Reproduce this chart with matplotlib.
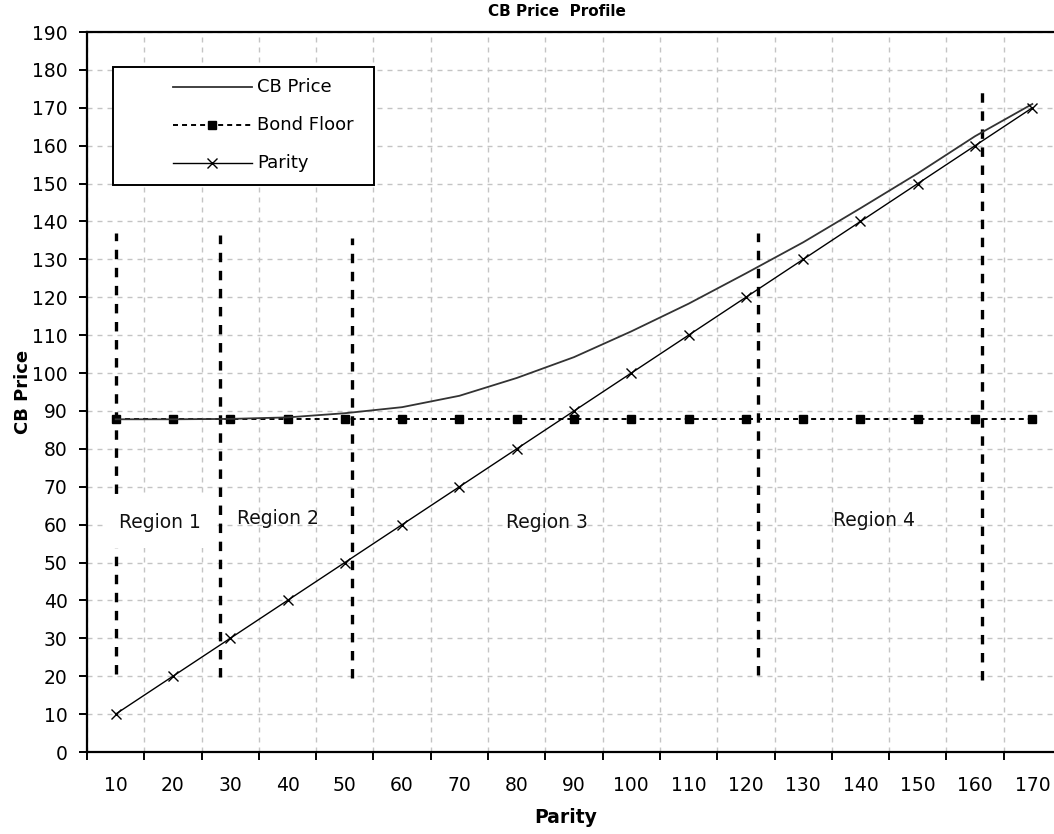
import matplotlib
matplotlib.use("Agg")
import matplotlib.pyplot as plt
from matplotlib.lines import Line2D
from matplotlib.patches import Rectangle
from matplotlib.ticker import FixedLocator, NullFormatter

plt.rcParams["font.family"] = ["DejaVu Sans"]
plt.rcParams["lines.scale_dashes"] = False

# Series values (category axis: one point per parity level)
parity = [10, 20, 30, 40, 50, 60, 70, 80, 90, 100, 110, 120, 130, 140, 150, 160, 170]
cb_price = [87.8, 87.8, 87.9, 88.3, 89.4, 91.0, 94.0, 98.7, 104.2, 111.0,
            118.3, 126.3, 134.5, 143.5, 152.7, 162.5, 171.0]
bond_floor = [87.8] * len(parity)

# Region boundaries, expressed in parity units
region_bounds = [10, 28.2, 51.3, 122.1, 161.2]
region_low = [20.5, 19.8, 19.5, 20.3, 19.0]
region_high = [137.0, 136.5, 135.6, 136.9, 174.7]
region_names = ["Region 1", "Region 2", "Region 3", "Region 4"]
region_label_x = [17.7, 38.3, 85.2, 142.3]
region_label_y = [60.5, 61.7, 60.5, 61.2]

y_ticks = list(range(0, 200, 10))

W, H = 1054, 834
fig = plt.figure(figsize=(W / 100, H / 100), dpi=100)
fig.patch.set_facecolor("white")


def fx(px):
    return px / W


def fy(py):
    return 1 - py / H


ax = fig.add_axes([fx(87), fy(752), 974 / W, 720 / H])
ax.set_facecolor("white")

n = len(parity)
idx = list(range(n))


def to_idx(p):
    return (p - parity[0]) / (parity[1] - parity[0])


ax.set_xlim(-0.5, n - 0.5)
ax.set_ylim(0, 190)

# category boundaries carry the tick marks and grid, centres carry the labels
ax.xaxis.set_major_locator(FixedLocator([i - 0.5 for i in range(n + 1)]))
ax.xaxis.set_major_formatter(NullFormatter())
ax.xaxis.set_minor_locator(FixedLocator(idx))
ax.set_xticklabels([str(p) for p in parity], minor=True)
ax.tick_params(axis="x", which="minor", length=0, pad=17, labelsize=13.5)
ax.tick_params(axis="x", which="major", length=6, width=1.4, direction="out")
ax.yaxis.set_major_locator(FixedLocator(y_ticks))
ax.set_yticklabels([str(v) for v in y_ticks])
ax.tick_params(axis="y", length=6, width=1.4, direction="out", pad=8, labelsize=13.5)

grid_kw = dict(color="#c4c4c4", linewidth=1.0, linestyle=(0, (3.6, 3.6)))
ax.grid(True, axis="x", which="major", **grid_kw)
ax.grid(True, axis="y", which="major", **grid_kw)
ax.set_axisbelow(True)

for side in ["left", "bottom", "top", "right"]:
    ax.spines[side].set_linewidth(1.6)
    ax.spines[side].set_color("black")

# series
ax.plot(idx, bond_floor, color="black", linewidth=1.4, linestyle=(0, (3.6, 2.9)),
        marker="s", markersize=5.5, markerfacecolor="black", markeredgecolor="black", zorder=4)
ax.plot(idx, cb_price, color="#333333", linewidth=1.3, zorder=5)
ax.plot(idx, parity, color="black", linewidth=1.0, marker="x", markersize=7,
        markeredgewidth=1.0, zorder=5)

# region dividers
for b, lo, hi in zip(region_bounds, region_low, region_high):
    ax.plot([to_idx(b), to_idx(b)], [lo, hi], color="black", linewidth=2.4,
            linestyle=(0, (6.8, 6.2)), zorder=3)

for name, lx, ly in zip(region_names, region_label_x, region_label_y):
    ax.text(to_idx(lx), ly, name, ha="center", va="center", fontsize=13.5,
            color="#111111", zorder=6,
            bbox=dict(boxstyle="square,pad=0.85", fc="white", ec="none") if name == "Region 1" else None)

# titles
fig.text(fx(557), fy(12), "CB Price  Profile", ha="center", va="center",
         fontsize=11, fontweight="bold")
fig.text(fx(566), fy(823), "Parity", ha="center", va="baseline",
         fontsize=13.5, fontweight="bold")
fig.text(fx(23), fy(392), "CB Price", ha="center", va="center", rotation=90,
         fontsize=13, fontweight="bold")

# legend box
fig.add_artist(Rectangle((fx(113), fy(185)), (374 - 113) / W, (185 - 67) / H,
                         transform=fig.transFigure, fc="white", ec="black", lw=1.4, zorder=10))
rows = [87, 125, 163]
labels = ["CB Price", "Bond Floor", "Parity"]
fig.add_artist(Line2D([fx(173), fx(252)], [fy(rows[0])] * 2, color="#333333", lw=1.3, zorder=11))
fig.add_artist(Line2D([fx(173), fx(252)], [fy(rows[1])] * 2, color="black", lw=1.4,
                      linestyle=(0, (3.6, 2.9)), zorder=11))
fig.add_artist(Line2D([fx(212)], [fy(rows[1])], color="black", marker="s", markersize=5.5,
                      linestyle="none", zorder=12))
fig.add_artist(Line2D([fx(173), fx(252)], [fy(rows[2])] * 2, color="black", lw=1.0, zorder=11))
fig.add_artist(Line2D([fx(212)], [fy(rows[2])], color="black", marker="x", markersize=7,
                      markeredgewidth=1.0, linestyle="none", zorder=12))
for r, lab in zip(rows, labels):
    fig.text(fx(257), fy(r), lab, ha="left", va="center", fontsize=13, zorder=12)

fig.savefig("out.png", dpi=100, facecolor="white")
